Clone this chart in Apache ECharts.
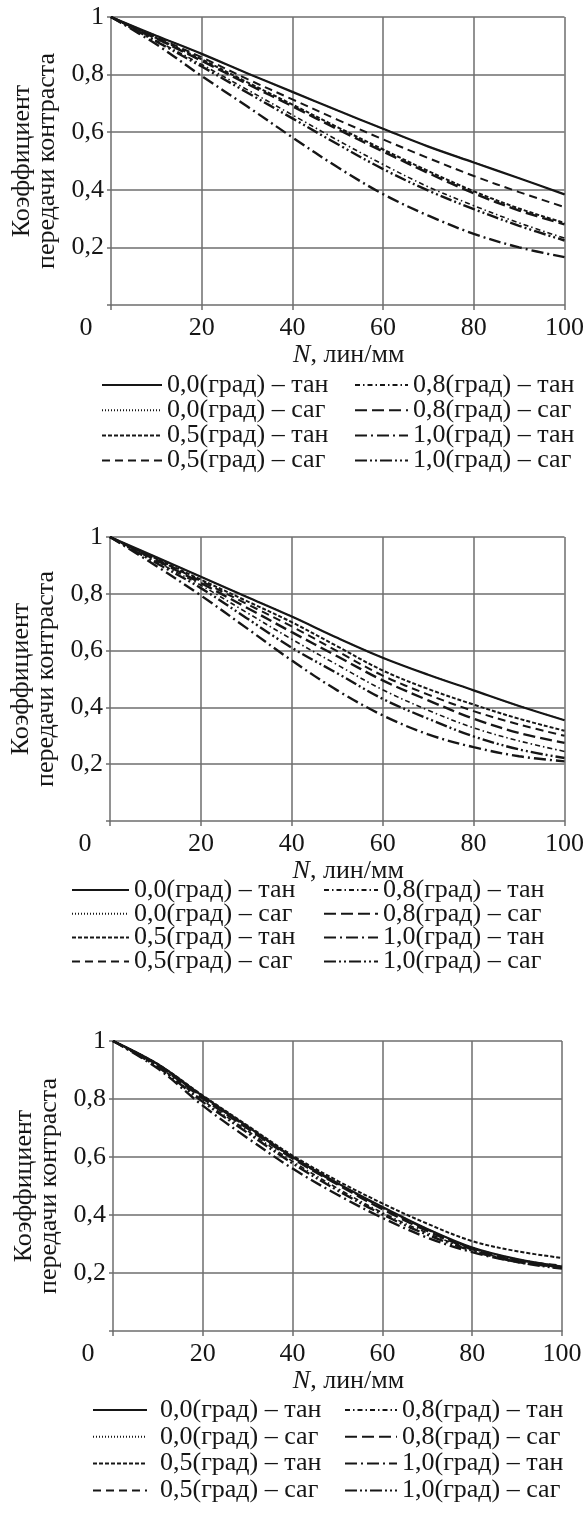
<!DOCTYPE html>
<html>
<head>
<meta charset="utf-8">
<script src="https://cdn.jsdelivr.net/npm/echarts@6/dist/echarts.min.js"></script>
<style>
  html, body { margin: 0; padding: 0; background: #fff; }
  #chart { width: 587px; height: 1514px; }
</style>
</head>
<body>
<div id="chart"></div>
<script>
// пространственная частота N, лин/мм
const N = [0, 10, 20, 30, 40, 50, 60, 70, 80, 90, 100]
const seriesNames = ['0,0(град) – тан', '0,0(град) – саг', '0,5(град) – тан', '0,5(град) – саг',
  '0,8(град) – тан', '0,8(град) – саг', '1,0(град) – тан', '1,0(град) – саг']

// верхний график
const top00tan = [1, 0.935, 0.872, 0.805, 0.74, 0.675, 0.612, 0.55, 0.495, 0.44, 0.384]
const top00sag = [1, 0.935, 0.872, 0.805, 0.74, 0.675, 0.612, 0.55, 0.495, 0.44, 0.384]
const top05tan = [1, 0.927, 0.853, 0.774, 0.696, 0.617, 0.54, 0.465, 0.395, 0.335, 0.285]
const top05sag = [1, 0.93, 0.86, 0.785, 0.714, 0.643, 0.575, 0.51, 0.448, 0.392, 0.34]
const top08tan = [1, 0.918, 0.835, 0.748, 0.66, 0.572, 0.488, 0.41, 0.345, 0.285, 0.232]
const top08sag = [1, 0.925, 0.848, 0.768, 0.69, 0.61, 0.533, 0.458, 0.388, 0.328, 0.28]
const top10tan = [1, 0.905, 0.795, 0.69, 0.582, 0.478, 0.385, 0.31, 0.247, 0.2, 0.166]
const top10sag = [1, 0.915, 0.828, 0.738, 0.648, 0.558, 0.472, 0.397, 0.333, 0.275, 0.224]

// средний график
const mid00tan = [1, 0.93, 0.86, 0.79, 0.72, 0.645, 0.575, 0.515, 0.46, 0.405, 0.355]
const mid00sag = [1, 0.93, 0.86, 0.79, 0.72, 0.645, 0.575, 0.515, 0.46, 0.405, 0.355]
const mid05tan = [1, 0.925, 0.85, 0.775, 0.7, 0.615, 0.53, 0.465, 0.41, 0.36, 0.318]
const mid05sag = [1, 0.923, 0.845, 0.765, 0.685, 0.598, 0.512, 0.445, 0.387, 0.34, 0.3]
const mid08tan = [1, 0.915, 0.83, 0.735, 0.64, 0.55, 0.462, 0.39, 0.328, 0.282, 0.245]
const mid08sag = [1, 0.92, 0.838, 0.752, 0.665, 0.58, 0.495, 0.425, 0.36, 0.31, 0.275]
const mid10tan = [1, 0.9, 0.794, 0.68, 0.565, 0.46, 0.372, 0.305, 0.26, 0.228, 0.21]
const mid10sag = [1, 0.91, 0.82, 0.715, 0.61, 0.52, 0.43, 0.36, 0.298, 0.252, 0.222]

// нижний график
const bot00tan = [1, 0.92, 0.81, 0.705, 0.6, 0.51, 0.428, 0.352, 0.288, 0.248, 0.222]
const bot00sag = [1, 0.92, 0.81, 0.705, 0.6, 0.51, 0.428, 0.352, 0.288, 0.248, 0.222]
const bot05tan = [1, 0.92, 0.812, 0.708, 0.605, 0.518, 0.44, 0.37, 0.31, 0.275, 0.252]
const bot05sag = [1, 0.918, 0.806, 0.702, 0.598, 0.508, 0.425, 0.35, 0.285, 0.245, 0.226]
const bot08tan = [1, 0.912, 0.795, 0.69, 0.585, 0.492, 0.408, 0.338, 0.28, 0.24, 0.218]
const bot08sag = [1, 0.916, 0.802, 0.698, 0.595, 0.505, 0.42, 0.345, 0.282, 0.242, 0.22]
const bot10tan = [1, 0.905, 0.777, 0.665, 0.56, 0.47, 0.39, 0.322, 0.272, 0.238, 0.22]
const bot10sag = [1, 0.91, 0.79, 0.683, 0.578, 0.485, 0.402, 0.332, 0.277, 0.238, 0.215]

const panels = [
  [top00tan, top00sag, top05tan, top05sag, top08tan, top08sag, top10tan, top10sag],
  [mid00tan, mid00sag, mid05tan, mid05sag, mid08tan, mid08sag, mid10tan, mid10sag],
  [bot00tan, bot00sag, bot05tan, bot05sag, bot08tan, bot08sag, bot10tan, bot10sag]
]

const font = "'Liberation Serif', 'Times New Roman', serif"
const ink = '#161616'
const gridColor = '#6e6e6e'

// стили линий
const lineStyles = [
  { type: 'solid', width: 2.2 },
  { type: [1, 2], width: 1.4 },
  { type: [4, 2], width: 2 },
  { type: [8, 5], width: 2 },
  { type: [5, 3, 1.5, 3], width: 1.6 },
  { type: [12, 5], width: 2.4 },
  { type: [12, 4, 2, 4], width: 2.4 },
  { type: [12, 3, 2, 3, 2, 3], width: 2.4 }
]

// расположение трёх графиков и их легенд
const grids = [
  { left: 111, right: 18, top: 17, height: 288 },
  { left: 110, right: 22, top: 537, height: 284 },
  { left: 113, right: 25, top: 1041, height: 290 }
]
const legendPos = [
  [{ left: 101, top: 372, w: 60, pad: 0 }, { left: 354, top: 372, w: 53, pad: 0 }],
  [{ left: 71, top: 877, w: 57, pad: 0 }, { left: 323, top: 877, w: 54, pad: 0 }],
  [{ left: 92, top: 1397, w: 54, pad: 8 }, { left: 344, top: 1397, w: 52, pad: 0 }]
]
const rowGaps = [-0.8, -2.2, 0.8]

const chart = echarts.init(document.getElementById('chart'), null, { renderer: 'canvas' })

const option = {
  animation: false,
  backgroundColor: '#fff',
  grid: grids,
  xAxis: grids.map((g, i) => ({
    type: 'value',
    gridIndex: i,
    min: 0,
    max: 100,
    interval: 20,
    name: '{i|N}, лин/мм',
    nameLocation: 'middle',
    nameGap: 33,
    nameTextStyle: {
      fontFamily: font, fontSize: 26, color: ink, padding: [0, 0, 0, 22],
      rich: { i: { fontFamily: font, fontSize: 26, color: ink, fontStyle: 'italic' } }
    },
    axisLine: { show: true, onZero: false, lineStyle: { color: gridColor, width: 1.5 } },
    axisTick: { show: true, length: 5, lineStyle: { color: gridColor, width: 1.5 } },
    splitLine: { show: true, showMinLine: false, showMaxLine: true, lineStyle: { color: gridColor, width: 1.5 } },
    axisLabel: {
      fontFamily: font, fontSize: 26, color: ink, margin: 10,
      showMinLabel: true, showMaxLabel: true,
      formatter: v => v === 0 ? '{z|0}' : String(v),
      rich: { z: { fontFamily: font, fontSize: 26, color: ink, padding: [0, 50, 0, 0] } }
    }
  })),
  yAxis: grids.map((g, i) => ({
    type: 'value',
    gridIndex: i,
    min: 0,
    max: 1,
    interval: 0.2,
    name: 'Коэффициент\nпередачи контраста',
    nameLocation: 'middle',
    nameGap: 45,
    nameRotate: 90,
    nameTextStyle: { fontFamily: font, fontSize: 26, color: ink, lineHeight: 25 },
    axisLine: { show: true, lineStyle: { color: gridColor, width: 1.5 } },
    axisTick: { show: true, length: 4, lineStyle: { color: gridColor, width: 1.5 } },
    splitLine: { show: true, showMinLine: false, showMaxLine: true, lineStyle: { color: gridColor, width: 1.5 } },
    axisLabel: {
      fontFamily: font, fontSize: 26, color: ink, margin: 7,
      formatter: v => v === 0 ? '' : (v === 1 ? '1' : v.toFixed(1).replace('.', ','))
    }
  })),
  legend: legendPos.flatMap((cols, p) => cols.map((c, k) => ({
    orient: 'vertical',
    left: c.left,
    top: c.top,
    itemWidth: c.w,
    itemHeight: 14,
    itemGap: rowGaps[p],
    selectedMode: false,
    padding: 0,
    data: seriesNames.slice(k * 4, k * 4 + 4),
    itemStyle: { opacity: 0 },
    textStyle: { fontFamily: font, fontSize: 26, color: ink, lineHeight: 24, padding: [0, 0, 0, c.pad] }
  }))),
  series: panels.flatMap((vals, p) => vals.map((arr, s) => ({
    name: seriesNames[s],
    type: 'line',
    xAxisIndex: p,
    yAxisIndex: p,
    symbol: 'none',
    smooth: 0.35,
    z: s === 0 ? 5 : 3,
    lineStyle: Object.assign({ color: ink }, lineStyles[s]),
    itemStyle: { color: ink },
    data: N.map((n, j) => [n, arr[j]])
  })))
}

chart.setOption(option)
</script>
</body>
</html>
